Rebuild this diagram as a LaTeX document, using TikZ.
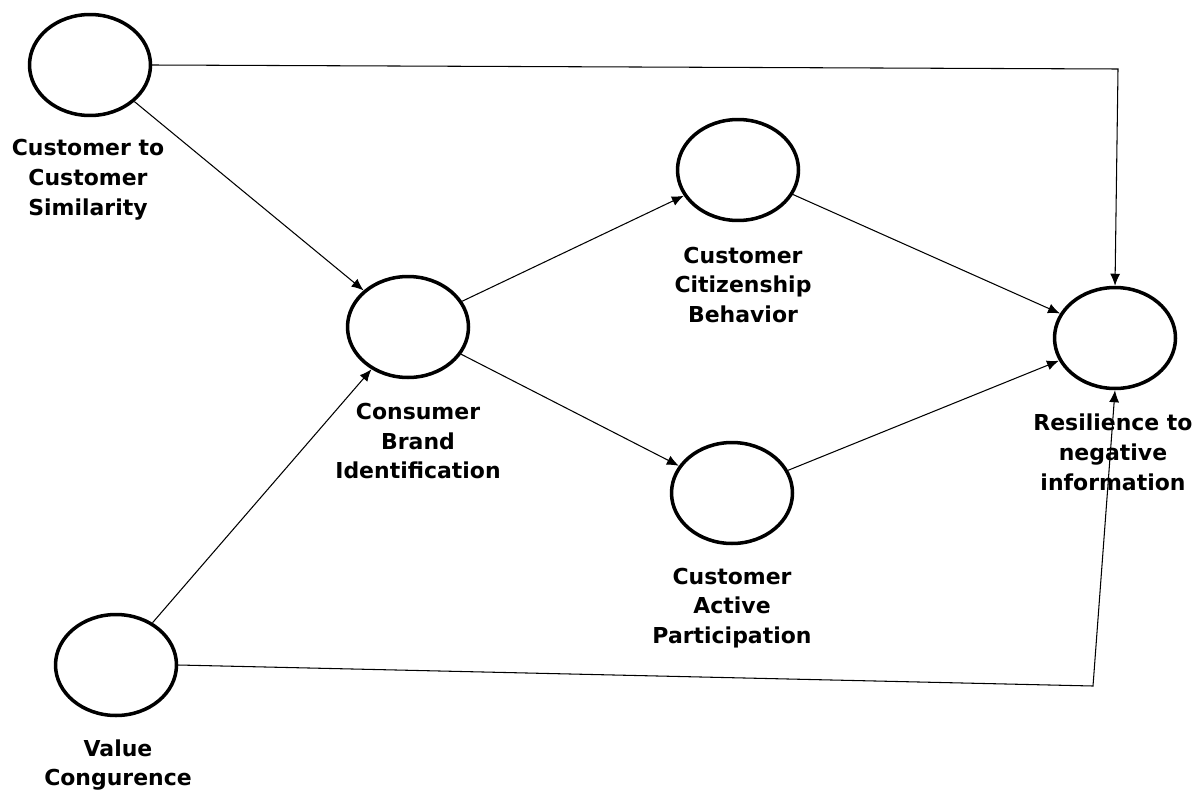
\documentclass[tikz,border=0pt]{standalone}
\usepackage{fontspec}
\setmainfont{DejaVu Sans}
\usetikzlibrary{shapes.geometric,arrows.meta}

\begin{document}
\begin{tikzpicture}[x=0.02cm,y=-0.02cm,
    construct/.style={ellipse,draw,line width=2pt,minimum width=2.42cm,minimum height=2.02cm,inner sep=0pt},
    lab/.style={align=center,font=\fontsize{12.5}{17}\selectfont\bfseries},
    path/.style={line width=0.6pt,-{Latex[length=2.4mm,width=2mm]}}]

            \useasboundingbox (0,0) rectangle (1203,794);

            % Constructs
            \node [construct] (ccs) at (90,65) {};
            \node [construct] (cbi) at (408,327) {};
            \node [construct] (ccb) at (738,170) {};
            \node [construct] (cap) at (732,493) {};
            \node [construct] (rni) at (1115,338) {};
            \node [construct] (vc) at (116,665) {};

            % Labels
            \node [lab] (ccslab) at (88,180) {Customer to\\Customer\\Similarity};
            \node [lab] (cbilab) at (418,441) {Consumer\\Brand\\Identification};
            \node [lab] (ccblab) at (743,285) {Customer\\Citizenship\\Behavior};
            \node [lab] (caplab) at (732,608) {Customer\\Active\\Participation};
            \node [lab] (rnilab) at (1113,452) {Resilience to\\negative\\information};
            \node [lab] (vclab) at (118,765) {Value\\Congurence};

            % Corners of the outer paths
            \coordinate (top) at (1118,69);
            \coordinate (bot) at (1093,686);

            % Paths
            \draw [path] (ccs) -- (cbi);
            \draw [path] (vc) -- (cbi);
            \draw [path] (cbi) -- (ccb);
            \draw [path] (cbi) -- (cap);
            \draw [path] (ccb) -- (rni);
            \draw [path] (cap) -- (rni);
            \draw [path] (ccs.east) -- (top) -- (rni.north);
            \draw [path] (vc.east) -- (bot) -- (rni.south);

\end{tikzpicture}
\end{document}
